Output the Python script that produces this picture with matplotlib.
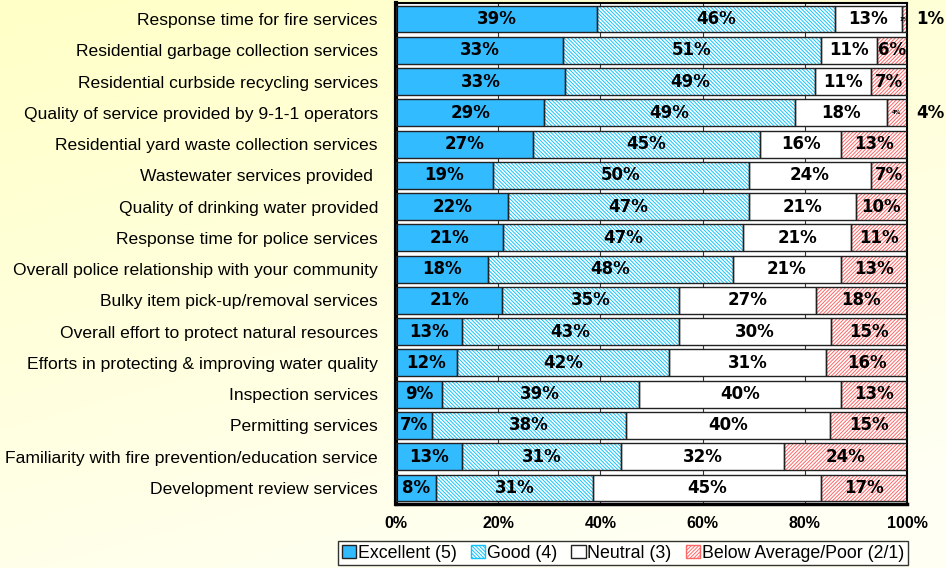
import matplotlib.pyplot as plt
import numpy as np
from matplotlib.patches import Patch

plt.rcParams["font.family"] = ["Liberation Sans", "DejaVu Sans"]
plt.rcParams["hatch.linewidth"] = 0.7

services = [
    "Response time for fire services",
    "Residential garbage collection services",
    "Residential curbside recycling services",
    "Quality of service provided by 9-1-1 operators",
    "Residential yard waste collection services",
    "Wastewater services provided ",
    "Quality of drinking water provided",
    "Response time for police services",
    "Overall police relationship with your community",
    "Bulky item pick-up/removal services",
    "Overall effort to protect natural resources",
    "Efforts in protecting & improving water quality",
    "Inspection services",
    "Permitting services",
    "Familiarity with fire prevention/education service",
    "Development review services",
]
excellent = [39, 33, 33, 29, 27, 19, 22, 21, 18, 21, 13, 12, 9, 7, 13, 8]
good = [46, 51, 49, 49, 45, 50, 47, 47, 48, 35, 43, 42, 39, 38, 31, 31]
neutral = [13, 11, 11, 18, 16, 24, 21, 21, 21, 27, 30, 31, 40, 40, 32, 45]
poor = [1, 6, 7, 4, 13, 7, 10, 11, 13, 18, 15, 16, 13, 15, 24, 17]
series = ["Excellent (5)", "Good (4)", "Neutral (3)", "Below Average/Poor (2/1)"]

BLUE = "#33bbff"
CYAN = "#11c4ff"
RED = "#ff6666"
GOOD_HATCH = "\\" * 9
POOR_HATCH = "/" * 9
LABEL_FONT = dict(family="DejaVu Sans", fontweight="bold")

fig = plt.figure(figsize=(9.46, 5.68), dpi=100)

# soft yellow background gradient
bg = fig.add_axes([0, 0, 1, 1], zorder=-10)
yy, xx = np.mgrid[0:1:200j, 0:1:200j]
t = np.clip(0.75 * yy + 0.35 * xx, 0, 1)
top = np.array([1.0, 1.0, 0.78])
bot = np.array([1.0, 1.0, 0.96])
img = top[None, None, :] * (1 - t[..., None]) + bot[None, None, :] * t[..., None]
bg.imshow(img, aspect="auto", extent=[0, 1, 0, 1])
bg.axis("off")

ax = fig.add_axes([396 / 946, 1 - 503.6 / 568, 511 / 946, 500.2 / 568])
ax.set_facecolor("white")

vals = np.array([excellent, good, neutral, poor], dtype=float)
widths = vals / vals.sum(axis=0) * 100
y = np.arange(len(services))
h = 0.86
left = np.zeros(len(services))
styles = [
    dict(color=BLUE, hatch=None),
    dict(color="white", hatch=GOOD_HATCH, hc=CYAN),
    dict(color="white", hatch=None),
    dict(color="white", hatch=POOR_HATCH, hc=RED),
]
for k in range(4):
    st = styles[k]
    if st["hatch"]:
        ax.barh(y, widths[k], left=left, height=h, color="white",
                edgecolor=st["hc"], hatch=st["hatch"], linewidth=0, zorder=2)
    else:
        ax.barh(y, widths[k], left=left, height=h, color=st["color"],
                linewidth=0, zorder=2)
    ax.barh(y, widths[k], left=left, height=h, fill=False,
            edgecolor="#222222", linewidth=1.0, zorder=3)
    for i in range(len(services)):
        cx = left[i] + widths[k][i] / 2
        v = int(vals[k][i])
        if widths[k][i] < 5:
            ax.text(cx, i, f"{v}%", ha="center", va="center", fontsize=4,
                    zorder=4, **LABEL_FONT)
            ax.text(104.5, i, f"{v}%", ha="center", va="center", fontsize=12,
                    clip_on=False, zorder=4, **LABEL_FONT)
        else:
            ax.text(cx, i, f"{v}%", ha="center", va="center", fontsize=12,
                    zorder=4, **LABEL_FONT)
    left += widths[k]

ax.set_xlim(0, 100)
ax.set_ylim(len(services) - 0.5, -0.5)
ax.set_yticks(y)
ax.set_yticklabels(services, fontsize=12.6)
ax.set_xticks(np.arange(0, 101, 20))
ax.set_xticklabels([f"{v}%" for v in range(0, 101, 20)], fontsize=11.5,
                   fontweight="bold")
ax.tick_params(axis="both", length=0, pad=9)
ax.tick_params(axis="y", pad=13)
ax.grid(axis="x", color="#333333", linewidth=0.8, zorder=0)
ax.set_axisbelow(True)
for s in ax.spines.values():
    s.set_linewidth(1.5)
ax.spines["left"].set_linewidth(3)
ax.spines["bottom"].set_linewidth(2.5)

handles = [
    Patch(facecolor=BLUE, edgecolor="#222222", linewidth=1.0),
    Patch(facecolor="white", edgecolor=CYAN, hatch=GOOD_HATCH, linewidth=1.0),
    Patch(facecolor="white", edgecolor="#222222", linewidth=1.0),
    Patch(facecolor="white", edgecolor=RED, hatch=POOR_HATCH, linewidth=1.0),
]
leg = fig.legend(handles, series, loc="center", bbox_to_anchor=(623 / 946, 1 - 553 / 568),
                 ncol=4, fontsize=12.8, frameon=True, fancybox=False, edgecolor="black",
                 handlelength=0.8, handleheight=0.8, handletextpad=0.1,
                 columnspacing=0.8, borderpad=0.2, borderaxespad=0)
leg.get_frame().set_linewidth(1.0)

fig.savefig("out.png", dpi=100)
